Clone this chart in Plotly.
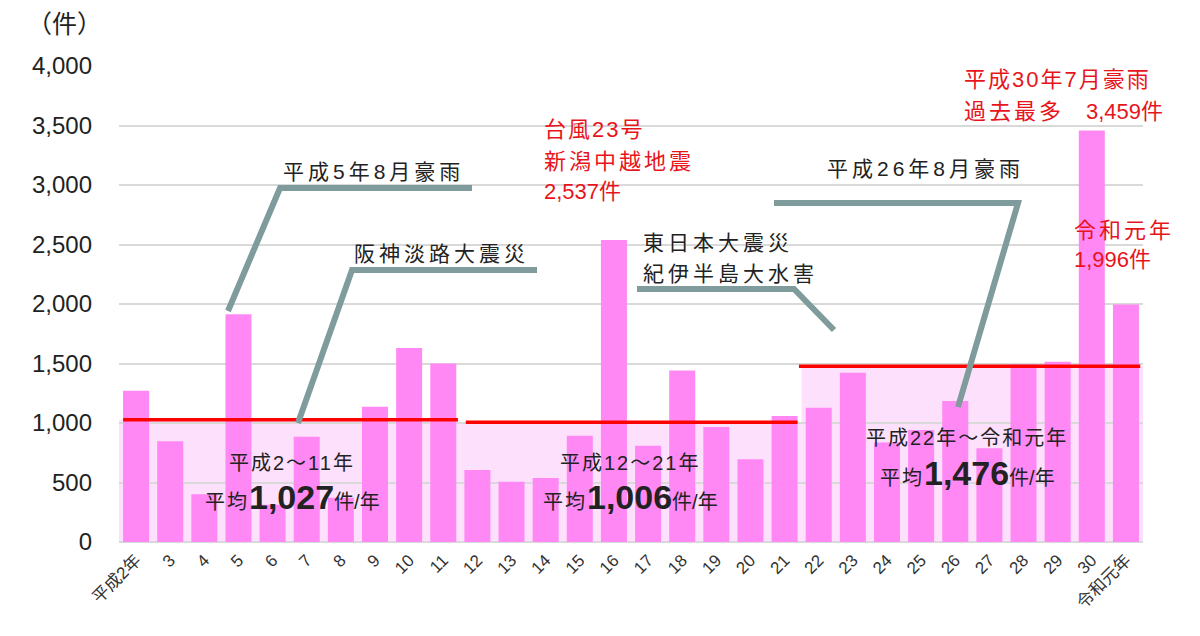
import plotly.graph_objects as go

# ---- data ----
categories = ["平成2年"] + [str(i) for i in range(3, 31)] + ["令和元年"]
counts = [1272, 846, 402, 1914, 314, 885, 371, 1136, 1631, 1499,
          605, 506, 537, 893, 2537, 808, 1441, 966, 695, 1058,
          1128, 1422, 837, 941, 1184, 788, 1492, 1514, 3459, 1996]
period_labels = ["平成2～11年", "平成12～21年", "平成22年～令和元年"]
period_avgs = [1027, 1006, 1476]
period_ranges = [(0, 9), (10, 19), (20, 29)]
y_ticks = [0, 500, 1000, 1500, 2000, 2500, 3000, 3500, 4000]

# ---- styling ----
BAR = "#ff88f5"
BAND = "#fde0fb"
RED_LINE = "#ff0000"
RED_TXT = "#e8141c"
LEADER = "#7f9b9b"
JP = "Liberation Sans, Arial, Noto Sans CJK JP"

W, H = 1200, 636
PL, PR, PT, PB = 119, 1143, 66, 542
N = len(categories)
YMAX = 4000


def dx(px):
    return (px - PL) / (PR - PL) * N - 0.5


def dy(py):
    return (PB - py) / (PB - PT) * YMAX


def sp(t, ls=3):
    return f'<span style="letter-spacing:{ls}px">{t}</span>'


fig = go.Figure()
fig.add_trace(go.Bar(x=list(range(N)), y=counts, marker=dict(color=BAR, line=dict(width=0)),
                     hoverinfo="skip"))

shapes = []
# light pink bands under averages
for (a, b), avg in zip(period_ranges, period_avgs):
    shapes.append(dict(type="rect", xref="x", yref="y", x0=a - 0.5, x1=b + 0.5, y0=0, y1=avg,
                       fillcolor=BAND, line=dict(width=0), layer="below"))
# red average lines
line_pad = [(-0.38, 0.43), (-0.34, 0.38), (-0.58, 0.42)]
for ((a, b), avg), (pa, pb) in zip(zip(period_ranges, period_avgs), line_pad):
    shapes.append(dict(type="line", xref="x", yref="y", x0=a + pa, x1=b + pb, y0=avg, y1=avg,
                       line=dict(color=RED_LINE, width=3.5), layer="above"))

# leader lines (pixel positions converted to axis coordinates)
leaders = [
    [(472, 188), (280, 188), (228, 311)],
    [(537, 270), (352, 270), (298, 423)],
    [(637, 289), (794, 289), (834, 330)],
    [(774, 203), (1018, 203), (958, 407)],
]
for pts in leaders:
    path = "M " + " L ".join(f"{dx(x)},{dy(y)}" for x, y in pts)
    shapes.append(dict(type="path", xref="x", yref="y", path=path,
                       line=dict(color=LEADER, width=6), layer="above"))

ann = []


def add_text(px, py, text, color="#222222", size=21, xanchor="left"):
    ann.append(dict(x=dx(px), y=dy(py), xref="x", yref="y", text=text, showarrow=False,
                    xanchor=xanchor, yanchor="middle",
                    font=dict(family=JP, size=size, color=color)))


add_text(281, 171, sp("平成5年8月豪雨", 4))
add_text(352, 253, sp("阪神淡路大震災", 4))
add_text(641, 242, sp("東日本大震災", 4))
add_text(641, 273, sp("紀伊半島大水害", 4))
add_text(825, 168, sp("平成26年8月豪雨", 4))

add_text(542, 129, sp("台風23号", 2), color=RED_TXT, size=22)
add_text(542, 161, sp("新潟中越地震", 3), color=RED_TXT, size=22)
add_text(542, 191, "2,537件", color=RED_TXT, size=22)
add_text(962, 79, sp("平成30年7月豪雨", 2), color=RED_TXT, size=22)
add_text(962, 111, sp("過去最多", 3) + "　3,459件", color=RED_TXT, size=22)
add_text(1072, 230, sp("令和元年", 3), color=RED_TXT, size=22)
add_text(1072, 259, "1,996件", color=RED_TXT, size=22)

# period averages
period_px = [(292, 463, 497), (630, 463, 497), (967, 438, 473)]
for lab, avg, (cx, y1, y2) in zip(period_labels, period_avgs, period_px):
    add_text(cx, y1, sp(lab, 2), size=20, xanchor="center")
    big = f"{avg:,}"
    add_text(cx, y2, sp("平均", 2) + f'<b><span style="font-size:34px">{big}</span></b>' + "件/年",
             size=20, xanchor="center")

# y axis unit
ann.append(dict(x=(64 - PL) / (PR - PL), y=(PB - 22) / (PB - PT), xref="paper", yref="paper",
                text="（件）", showarrow=False, xanchor="center", yanchor="middle",
                font=dict(family="Noto Sans CJK JP", size=25, color="#222222")))

fig.update_layout(
    width=W, height=H, autosize=False,
    margin=dict(l=PL, r=W - PR, t=PT, b=H - PB),
    paper_bgcolor="white", plot_bgcolor="white",
    bargap=0.238, showlegend=False,
    shapes=shapes, annotations=ann,
    xaxis=dict(range=[-0.5, N - 0.5], tickmode="array", tickvals=list(range(N)),
               ticktext=categories, tickangle=-45, showgrid=False, zeroline=False,
               showline=False, ticks="", ticklabelstandoff=4,
               tickfont=dict(family=JP, size=17, color="#333333"),
               fixedrange=True),
    yaxis=dict(range=[0, YMAX], tickmode="array", tickvals=y_ticks,
               ticktext=[f"{v:,}" for v in y_ticks], showgrid=True, gridcolor="#d9d9d9",
               gridwidth=2, zeroline=True, zerolinecolor="#d9d9d9", zerolinewidth=2,
               showline=False, ticks="", ticklabelstandoff=26,
               tickfont=dict(family="Liberation Sans, Arial", size=24, color="#222222"),
               fixedrange=True),
)
fig.update_traces(cliponaxis=False)

fig.write_html("out.html")
